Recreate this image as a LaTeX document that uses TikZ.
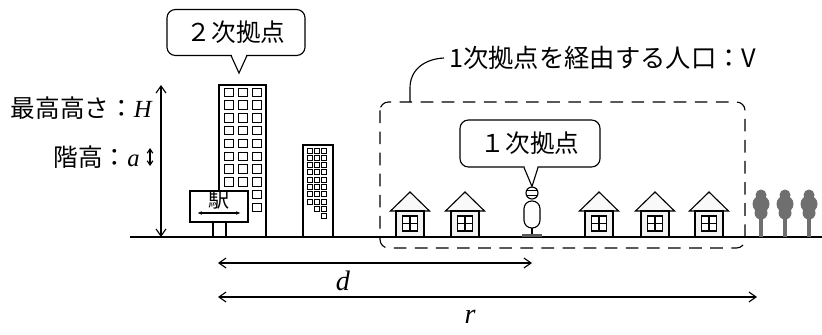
\documentclass[tikz,border=0pt]{standalone}
\usepackage{fontspec}
\setmainfont{Liberation Serif}
\newfontfamily\jpfont{Noto Sans CJK JP}
\usetikzlibrary{arrows.meta}
\definecolor{treegray}{HTML}{6F6F6F}
\newcommand\mvar[1]{{\rmfamily\itshape #1}}

\begin{document}
\begin{tikzpicture}[x=0.025cm, y=-0.025cm, line width=0.8pt,
  >={Straight Barb[length=5pt,width=7pt]},
  jp/.style={font=\jpfont\fontsize{17.5}{20}\selectfont},
  bubble/.style={jp, draw, fill=white, rounded corners=6pt,
    minimum width=3.45cm, minimum height=1.15cm},
  wall/.style={draw, fill=white, line width=0.9pt},
  win/.style={draw, fill=white, line width=0.7pt}]
  \useasboundingbox (0,0) rectangle (822,335);

  % ground
  \coordinate (g0) at (130,237);
  \coordinate (g1) at (822,237);
  \draw[line width=1pt] (g0) -- (g1);

  % trees
  \foreach \x in {761,785,809} {
    \fill[treegray] (\x-1.8,212) rectangle (\x+1.8,237);
    \fill[treegray] (\x,195) circle (5.5) (\x,204) circle (8.5) (\x,213) circle (6.5);
  }

  % tall building + windows
  \draw[wall] (219,85) rectangle (266,237);
  \foreach \i in {0,...,9} \foreach \j in {0,1,2}
    \draw[win] ({224+14*\j},{88+12.8*\i}) rectangle +(9,8.5);

  % small building
  \draw[wall] (303,145) rectangle (333,237);
  \foreach \j/\n in {0/7,1/8,2/9} \foreach \i in {0,...,\n}
    \draw[win, line width=0.6pt] ({307+7.3*\j},{148+7.3*\i}) rectangle +(5,5);

  % station sign
  \draw[wall] (213,222) rectangle (226,237);
  \node[wall, minimum width=1.45cm, minimum height=0.775cm] (station) at (219,206.5) {};
  \node[font=\jpfont\fontsize{15}{16}\selectfont, inner sep=0pt] (stationname) at (219,200) {駅};
  \coordinate (sl) at (197,213);
  \coordinate (sr) at (241,213);
  \draw[{Latex[length=3.5pt]}-{Latex[length=3.5pt]}] (sl) -- (sr);

  % catchment of the first hub
  \draw[dash pattern=on 9pt off 6pt, rounded corners=6pt] (380,102) rectangle (745,248);
  \node[jp, anchor=west, font=\jpfont\fontsize{18}{20}\selectfont] (vlabel) at (444,58) {1次拠点を経由する人口：V};
  \coordinate (vfoot) at (410,102);
  \draw (vfoot) -- (410,88) .. controls (410,70) and (424,59) .. (vlabel.west);

  % houses
  \foreach \x in {410,465,599,655,709} {
    \draw[fill=gray!5] (\x-19.5,211) -- (\x,192) -- (\x+19.5,211) -- cycle;
    \draw[fill=gray!10] (\x-14,211) rectangle (\x+14,237);
    \draw[fill=white] (\x-7.5,216) rectangle (\x+7.5,231);
    \draw (\x,216) -- (\x,231) (\x-7.5,223.5) -- (\x+7.5,223.5);
  }

  % person
  \node[draw, circle, fill=white, minimum size=0.3cm, inner sep=0pt] (head) at (532,193) {};
  \draw (526.5,190.8) -- (537.5,190.8) (526.5,195.2) -- (537.5,195.2);
  \draw[rounded corners=5.5pt, fill=white] (524,201) rectangle (540,228);
  \draw (532,228) -- (532,235);
  \draw[line width=1.5pt, gray!70!black] (522,235.5) -- (542,235.5);

  % callouts
  \node[bubble] (hub2) at (236,32.5) {２次拠点};
  \coordinate (hub2tip) at (239,73);
  \fill[white] (231.5,54) -- (hub2tip) -- (246.5,54) -- cycle;
  \draw (231,55.5) -- (hub2tip) -- (247,55.5);

  \node[bubble, minimum width=3.5cm, minimum height=1.175cm] (hub1) at (530,143.5) {１次拠点};
  \coordinate (hub1tip) at (head.north);
  \fill[white] (524.5,166) -- (hub1tip) -- (537.5,166) -- cycle;
  \draw (524,167.5) -- (hub1tip) -- (538,167.5);

  % heights
  \coordinate (htop) at (161,85);
  \coordinate (hbot) at (161,237);
  \draw[<->] (htop) -- (hbot);
  \node[jp, anchor=east] (hmax) at (157,108) {最高高さ：\mvar{H}};
  \node[jp, anchor=east] (hfloor) at (145,157) {階高：\mvar{a}};
  \coordinate (ftop) at (150,148);
  \coordinate (fbot) at (150,166);
  \draw[{Straight Barb[length=3pt,width=4pt]}-{Straight Barb[length=3pt,width=4pt]}] (ftop) -- (fbot);

  % distances
  \coordinate (d0) at (218,263);
  \coordinate (d1) at (532,263);
  \draw[<->] (d0) -- (d1);
  \node[font=\fontsize{20}{22}\selectfont] (dlab) at (343,281) {\mvar{d}};
  \coordinate (r0) at (218,297);
  \coordinate (r1) at (757,297);
  \draw[<->] (r0) -- (r1);
  \node[font=\fontsize{20}{22}\selectfont] (rlab) at (470,317) {\mvar{r}};
\end{tikzpicture}
\end{document}
